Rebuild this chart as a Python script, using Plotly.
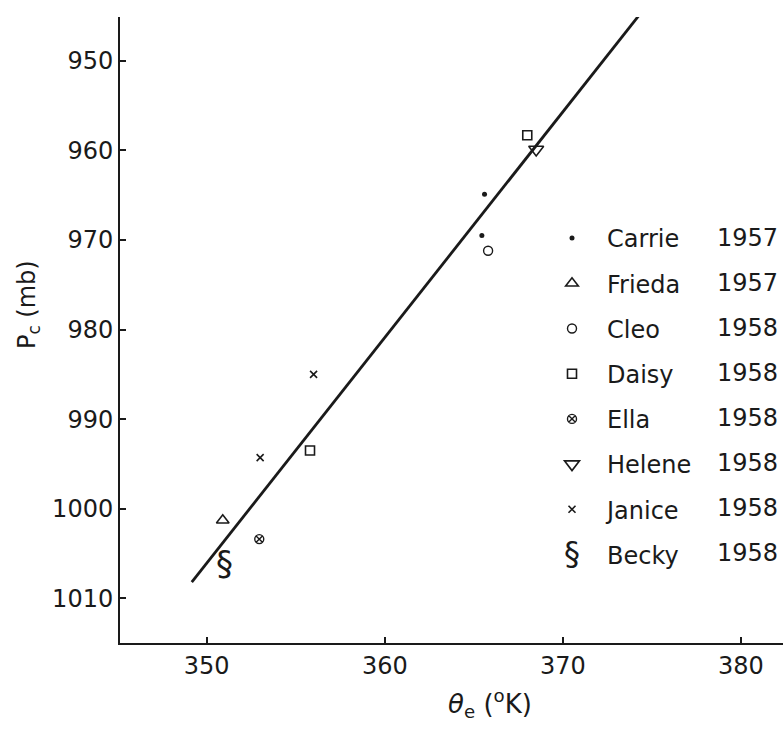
import plotly.graph_objects as go

# ---- data ----
storm_names = ["Carrie", "Frieda", "Cleo", "Daisy", "Ella", "Helene", "Janice", "Becky"]
storm_years = ["1957", "1957", "1958", "1958", "1958", "1958", "1958", "1958"]

theta_e = {
    "Carrie": [365.6, 365.45],
    "Frieda": [350.9],
    "Cleo":   [365.8],
    "Daisy":  [355.8, 368.0],
    "Ella":   [352.95],
    "Helene": [368.5],
    "Janice": [353.0, 356.0],
    "Becky":  [351.0],
}
p_c = {
    "Carrie": [964.9, 969.5],
    "Frieda": [1001.3],
    "Cleo":   [971.2],
    "Daisy":  [993.5, 958.3],
    "Ella":   [1003.4],
    "Helene": [959.9],
    "Janice": [994.3, 985.0],
    "Becky":  [1006.5],
}
fit_theta = [349.16, 374.4]
fit_pc = [1008.2, 944.6]

x_ticks = [350, 360, 370, 380]
y_ticks = [950, 960, 970, 980, 990, 1000, 1010]

# ---- styling ----
INK = "#1a1a1a"
FONT = "DejaVu Sans"
symbols = {
    "Carrie": dict(symbol="circle", size=5, color=INK, line=dict(width=0)),
    "Frieda": dict(symbol="triangle-up-open", size=11, color=INK, line=dict(width=1.6)),
    "Cleo":   dict(symbol="circle-open", size=9, color=INK, line=dict(width=1.4)),
    "Daisy":  dict(symbol="square-open", size=9, color=INK, line=dict(width=1.6)),
    "Ella":   dict(symbol="circle-x-open", size=9, color=INK, line=dict(width=1.4)),
    "Helene": dict(symbol="triangle-down-open", size=13, color=INK, line=dict(width=1.6)),
    "Janice": dict(symbol="x-thin-open", size=7, color=INK, line=dict(width=1.6)),
}

fig = go.Figure()

fig.add_trace(go.Scatter(x=fit_theta, y=fit_pc, mode="lines",
                         line=dict(color=INK, width=2.8), showlegend=False,
                         hoverinfo="skip"))

for i, name in enumerate(storm_names):
    if name == "Becky":
        fig.add_trace(go.Scatter(x=theta_e[name], y=p_c[name], mode="text",
                                 text=["§"], textfont=dict(family=FONT, size=34, color=INK),
                                 name=name, showlegend=False, legendgroup=name))
        # legend entry without a marker; its symbol is drawn as text below
        fig.add_trace(go.Scatter(x=[None], y=[None], mode="markers",
                                 marker=dict(size=1, color="rgba(0,0,0,0)"),
                                 name=name, legendgroup=name, showlegend=True))
    else:
        fig.add_trace(go.Scatter(x=theta_e[name], y=p_c[name], mode="markers",
                                 marker=symbols[name], name=name, legendgroup=name))

# plot area in pixels: left 120, top 17, bottom 643, right 783
L, T, B, R = 120, 17, 89, 0
W, H = 783, 732
PW, PH = W - L - R, H - T - B

row_y0 = 238.3
row_dy = 45.0
annotations = []
for i, yr in enumerate(storm_years):
    py = row_y0 + i * row_dy
    annotations.append(dict(x=(715 - L) / PW, y=(H - B - py) / PH, xref="paper", yref="paper",
                            text=yr, showarrow=False, xanchor="left", yanchor="middle",
                            font=dict(family=FONT, size=24, color=INK)))
# Becky legend symbol
annotations.append(dict(x=(572 - L) / PW, y=(H - B - (row_y0 + 7 * row_dy)) / PH,
                        xref="paper", yref="paper", text="§", showarrow=False,
                        xanchor="center", yanchor="middle",
                        font=dict(family=FONT, size=32, color=INK)))
# axis titles
annotations.append(dict(x=(28 - L) / PW, y=(H - B - 305) / PH, xref="paper", yref="paper",
                        text="P<sub>c</sub> (mb)", textangle=-90, showarrow=False,
                        xanchor="center", yanchor="middle",
                        font=dict(family=FONT, size=24, color=INK)))
annotations.append(dict(x=(490 - L) / PW, y=(H - B - 703) / PH, xref="paper", yref="paper",
                        text="<i>θ</i><sub>e</sub> (<sup>o</sup>K)", showarrow=False,
                        xanchor="center", yanchor="middle",
                        font=dict(family=FONT, size=26, color=INK)))

fig.update_layout(
    width=W, height=H,
    margin=dict(l=L, r=R, t=T, b=B),
    paper_bgcolor="white", plot_bgcolor="white",
    font=dict(family=FONT, size=24, color=INK),
    showlegend=True,
    legend=dict(x=(537 - L) / PW, y=(H - B - 216) / PH, xanchor="left", yanchor="top",
                font=dict(family=FONT, size=24, color=INK),
                bgcolor="rgba(0,0,0,0)", traceorder="grouped", tracegroupgap=11,
                itemwidth=60),
    annotations=annotations,
)
fig.update_xaxes(range=[345.13, 382.36], tickvals=x_ticks, ticks="inside", ticklen=6,
                 tickwidth=1.5, tickcolor=INK, showline=True, linecolor=INK, linewidth=2,
                 showgrid=False, zeroline=False, tickfont=dict(family=FONT, size=24, color=INK))
fig.update_yaxes(range=[1015.0, 945.1], tickvals=y_ticks, ticks="inside", ticklen=6,
                 tickwidth=1.5, tickcolor=INK, showline=True, linecolor=INK, linewidth=2,
                 showgrid=False, zeroline=False, tickfont=dict(family=FONT, size=24, color=INK))

fig.write_html("out.html")
